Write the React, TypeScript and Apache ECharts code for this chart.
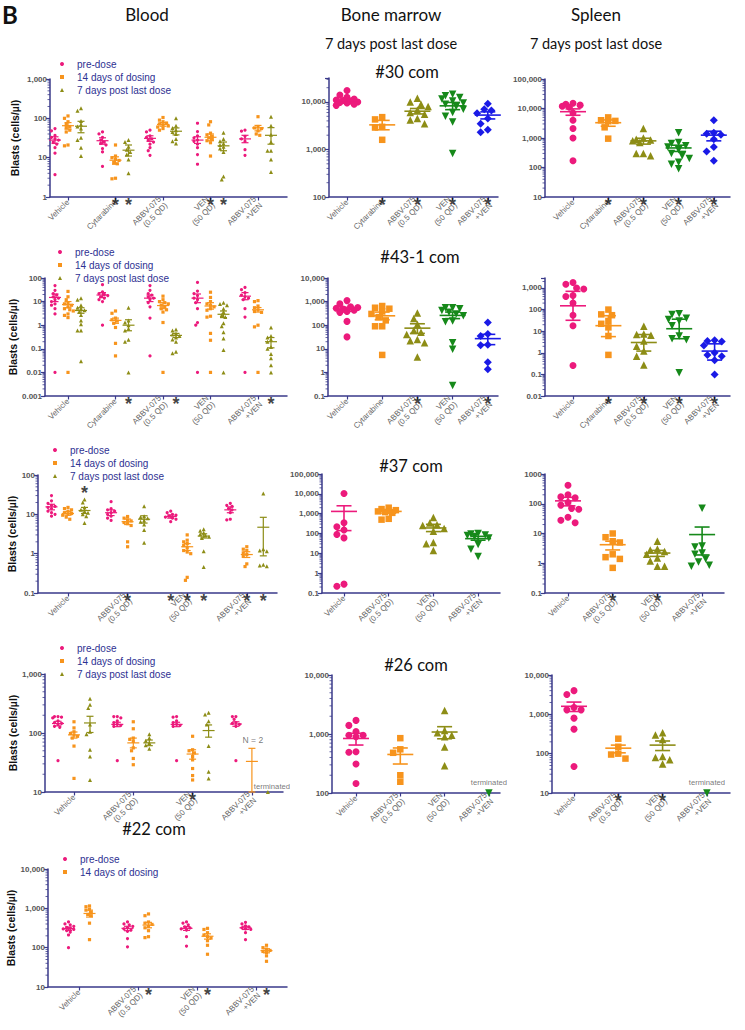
import React, { useEffect, useRef } from 'react';
import * as echarts from 'echarts';

// ---------------- categories / labels ----------------
const groups5 = ['Vehicle', 'Cytarabine', 'ABBV-075\n(0.5 QD)', 'VEN\n(50 QD)', 'ABBV-075\n+VEN'];
const groups4 = ['Vehicle', 'ABBV-075\n(0.5 QD)', 'VEN\n(50 QD)', 'ABBV-075\n+VEN'];
const timepoints = ['pre-dose', '14 days of dosing', '7 days post last dose'];

// ---------------- #30 blood (per group) ----------------
const b30Pre = [
  [55, 48, 37, 33, 30, 28, 25, 22, 18, 13, 3.7],
  [45, 40, 33, 28, 25, 23, 21, 17, 14, 6],
  [50, 45, 36, 33, 30, 28, 25, 22, 18, 15, 11.5],
  [75, 46, 36, 32, 28, 26, 22, 18, 12, 6.8],
  [50, 47, 35, 30, 26, 16, 11.5],
];
const b30D14 = [
  [115, 100, 82, 70, 62, 58, 50, 45, 21, 20],
  [21, 11, 10, 9, 8.5, 7.5, 7, 3, 2.9],
  [105, 90, 82, 76, 72, 68, 64, 60, 55, 50],
  [82, 68, 42, 38, 35, 32, 29, 27, 24, 11],
  [110, 62, 57, 55, 48, 40, 37],
];
const b30Post = [
  [180, 155, 85, 70, 62, 55, 32, 28, 18, 11],
  [28, 25, 19, 16, 14, 12, 9, 4],
  [100, 65, 57, 50, 45, 40, 30, 26, 23],
  [43, 30, 26, 23, 21, 19, 17, 14, 3.3, 2.8],
  [110, 65, 38, 25, 15, 15, 9, 4.3],
];
// [mean, lower, upper]
const b30PreStat = [[28, 23, 34], [27, 22, 32], [31, 26, 36], [28, 23, 34], [30, 24, 37]];
const b30D14Stat = [[65, 53, 78], [8.6, 6.8, 10.5], [70, 63, 78], [33, 27, 40], [57, 48, 66]];
const b30PostStat = [[63, 43, 84], [15.5, 11, 21], [47, 38, 57], [20, 15, 25], [37, 22, 58]];
const b30Stars = [[1, 1], [1, 2], [3, 1], [3, 2]];

// ---------------- #43-1 blood ----------------
const b43Pre = [
  [48, 30, 22, 19, 16, 14, 12, 10, 8, 7, 5, 3, 0.01],
  [52, 26, 22, 20, 18, 16, 14, 12, 10, 1],
  [48, 30, 22, 19, 16, 14, 12, 9, 6, 2, 0.05],
  [65, 28, 22, 18, 14, 12, 9, 5, 1.3, 1.0, 0.01],
  [40, 32, 24, 19, 16, 14, 12, 5, 2.2, 0.01],
];
const b43D14 = [
  [27, 16, 12, 9, 8, 7, 6, 5, 4.5, 4, 3, 2.6, 2.1, 0.01],
  [4, 3.2, 2, 1.7, 1.5, 1.2, 0.8, 0.17, 0.05],
  [17, 12, 10, 9, 8, 7, 6, 5, 4.5, 3.6, 1.3, 0.01],
  [25, 15, 10, 8, 7, 6, 5, 4.3, 2.4, 2.2, 0.45, 0.23, 0.01],
  [11, 10, 6.5, 5.5, 4.5, 3.8, 3.5, 1, 0.85, 0.01],
];
const b43Post = [
  [14, 12, 7, 5.5, 5, 4.3, 3.7, 2.7, 1.6, 1.1, 0.6, 0.6, 0.03],
  [5.5, 1.6, 1.3, 1, 0.7, 0.6, 0.24, 0.2, 0.01],
  [0.65, 0.6, 0.45, 0.4, 0.35, 0.3, 0.25, 0.2, 0.075, 0.065],
  [9, 8, 7, 5, 3.6, 2.7, 2.2, 1.2, 0.9, 0.5, 0.27, 0.09, 0.01],
  [0.8, 0.35, 0.3, 0.25, 0.2, 0.12, 0.1, 0.06, 0.04, 0.02, 0.01],
];
const b43PreStat = [[15, 10, 21], [19, 15, 24], [14, 10, 19], [14, 9, 21], [17, 12, 24]];
const b43D14Stat = [[7.5, 5.5, 10], [1.6, 1.2, 2.0], [6.8, 5, 9], [6.5, 4.8, 9], [4.5, 3.6, 5.6]];
const b43PostStat = [[4.2, 3.2, 5.5], [1.0, 0.58, 1.7], [0.37, 0.3, 0.45], [2.9, 2.1, 4], [0.2, 0.11, 0.3]];
const b43Stars = [[1, 2], [2, 2], [4, 2]];

// ---------------- #37 blood ----------------
const b37Pre = [
  [30, 22, 19, 17, 16, 15, 14, 12, 11, 10, 9],
  [21, 14, 13, 12, 11, 10, 9, 8, 7],
  [12, 11, 10, 9.5, 9, 8.5, 8, 7.5, 6.5],
  [19, 17, 16, 14, 13, 11, 7.5, 7.2],
];
const b37D14 = [
  [15, 14, 13, 12, 11, 10.5, 10, 9.5, 8.5, 7.5],
  [8.8, 8, 7.2, 6.8, 6.2, 5.8, 5.2, 2, 1.5],
  [3, 2.2, 2, 1.8, 1.6, 1.4, 1.2, 1.1, 1.0, 0.25, 0.21],
  [1.5, 1.3, 1.2, 1.05, 0.95, 0.85, 0.55, 0.47],
];
const b37Post = [
  [24, 20, 15, 13, 12, 11, 10, 9, 6],
  [16, 9, 8.5, 8, 7, 6.5, 5.5, 4, 1.9],
  [4.2, 3.8, 3.4, 3.1, 2.9, 2.7, 2.5, 1.15, 0.46],
  [34, 1.3, 1.2, 1.15, 0.52, 0.5, 0.48],
];
const b37PreStat = [[15.5, 13, 18], [11, 9.3, 13], [8.8, 8, 9.7], [13, 11, 15.5]];
const b37D14Stat = [[10.5, 9.5, 11.8], [6.5, 5.5, 7.6], [1.5, 1.2, 1.8], [0.95, 0.8, 1.12]];
const b37PostStat = [[12.5, 10.5, 15], [7.5, 6, 9.2], [2.8, 2.5, 3.2], [4.7, 0.88, 8.4]];
const b37Stars = [[1, 1], [2, 0], [2, 1], [2, 2], [3, 1], [3, 2]];
const b37StarsAbove = [[0, 2, 56]];

// ---------------- #26 blood ----------------
const b26Pre = [
  [190, 190, 185, 180, 160, 150, 145, 140, 130, 125, 34],
  [190, 190, 180, 160, 150, 140, 135, 130, 34],
  [190, 185, 160, 150, 140, 135, 130, 34],
  [190, 190, 170, 150, 145, 140, 130, 34],
];
const b26D14 = [
  [155, 122, 105, 98, 92, 88, 82, 60, 17],
  [155, 118, 82, 78, 72, 56, 50, 37, 29],
  [88, 52, 50, 46, 40, 35, 25, 19, 16],
  [],
];
const b26Post = [
  [380, 300, 265, 140, 105, 95, 52, 40, 16],
  [95, 82, 74, 68, 62, 54],
  [220, 205, 158, 140, 60, 22, 17],
  [10],
];
const b26PreStat = [[145, 132, 158], [140, 128, 152], [140, 128, 152], [142, 130, 155]];
const b26D14Stat = [[93, 82, 104], [68, 56, 82], [44, 36, 52], [33, 10, 55]];
const b26PostStat = [[148, 102, 192], [68, 61, 76], [110, 85, 137], null];
const b26Stars = [[2, 1]];

// ---------------- #22 blood ----------------
const b22Pre = [
  [450, 400, 380, 350, 330, 310, 300, 290, 270, 250, 210, 100],
  [450, 400, 380, 350, 320, 300, 280, 260, 170, 105],
  [450, 420, 380, 340, 320, 300, 280, 190, 110],
  [440, 400, 360, 340, 320, 300, 290, 240, 160],
];
const b22D14 = [
  [1150, 1100, 950, 900, 800, 700, 650, 420, 160],
  [720, 650, 450, 420, 390, 350, 320, 270, 190, 180],
  [310, 290, 240, 210, 190, 175, 150, 115, 68],
  [115, 100, 92, 85, 80, 75, 62, 45],
];
const b22PreStat = [[305, 275, 335], [310, 270, 350], [310, 275, 345], [320, 290, 350]];
const b22D14Stat = [[740, 600, 900], [375, 320, 440], [195, 165, 225], [84, 74, 94]];
const b22Stars = [[1, 1], [2, 1], [3, 1]];

// ---------------- bone marrow / spleen ----------------
const m30 = [
  [17500, 14000, 12500, 11500, 11000, 10800, 10500, 10000, 9800, 9500, 9000, 8500],
  [4800, 4300, 3000, 2900, 1600],
  [12000, 10000, 9000, 8000, 6800, 6000, 5500, 4500, 4200, 3500],
  [14500, 13500, 12500, 11500, 10500, 9500, 9000, 8000, 7000, 6000, 5000, 3800, 820],
  [9200, 7000, 6600, 5800, 4500, 3500, 2600, 2300],
];
const m30Stat = [[10800, 10000, 11600], [3300, 2600, 4100], [6400, 5600, 7300], [8300, 6900, 9800], [5300, 4400, 6200]];
const m30Stars = [[1, 0], [2, 0], [3, 0], [4, 0]];

const s30 = [
  [15000, 14000, 13000, 12000, 11000, 7000, 4000, 2100, 1000, 170],
  [5000, 4000, 3800, 3700, 2300, 950],
  [2100, 1000, 900, 850, 800, 700, 300, 300, 250],
  [1500, 700, 650, 550, 500, 400, 300, 250, 200, 150, 130, 90],
  [4000, 1500, 1400, 1300, 900, 500, 350, 170],
];
const s30Stat = [[7800, 5900, 9700], [3300, 2500, 4100], [800, 620, 980], [460, 350, 570], [1250, 800, 1700]];
const s30Stars = [[1, 0], [2, 0], [3, 0], [4, 0]];

const m43 = [
  [1100, 800, 600, 560, 520, 480, 430, 380, 350, 145, 32],
  [650, 550, 500, 380, 300, 220, 160, 90, 90, 5.5],
  [330, 190, 110, 60, 50, 40, 25, 22, 18, 4.5],
  [550, 550, 500, 420, 350, 300, 250, 150, 140, 18, 9.5, 0.28],
  [130, 42, 35, 15, 14, 2.7, 1.35],
];
const m43Stat = [[480, 390, 570], [250, 170, 360], [75, 45, 115], [260, 190, 360], [27, 15, 41]];
const m43Stars = [[2, 0], [4, 0]];

const s43 = [
  [1800, 1500, 1000, 900, 450, 400, 200, 55, 18, 0.26],
  [100, 60, 55, 30, 22, 15, 6, 0.8],
  [17, 7.5, 7, 6.5, 3.5, 2, 1.2, 0.7, 0.27],
  [65, 60, 40, 35, 30, 18, 6, 4.5, 4, 0.12],
  [3.8, 3.5, 3.3, 2.2, 1, 0.8, 0.7, 0.45, 0.1],
];
const s43Stat = [[150, 32, 700], [18, 5.6, 52], [3, 1.2, 7], [13, 4.5, 36], [1.2, 0.46, 2.6]];
const s43Stars = [[1, 0], [2, 0], [3, 0], [4, 0]];

const m37 = [
  [10500, 350, 220, 150, 90, 60, 0.28, 0.22],
  [2000, 1700, 1500, 1300, 1200, 1100, 550, 500],
  [650, 340, 280, 250, 180, 130, 35, 30, 14],
  [100, 95, 85, 80, 70, 60, 28, 16, 7],
];
const m37Stat = [[1300, 140, 2500], [1300, 1050, 1600], [190, 125, 290], [55, 46, 72]];
const m37Stars: number[][] = [];

const s37 = [
  [420, 200, 170, 160, 110, 90, 70, 65, 35, 28, 23],
  [10, 7.5, 5.5, 5, 2, 1.6, 1.4, 0.7],
  [5.5, 3, 2.8, 2.5, 2, 1.5, 1.2, 0.8, 0.8],
  [70, 3.8, 3.5, 2.2, 2, 1.4, 1.1, 0.85, 0.8],
];
const s37Stat = [[125, 85, 165], [4.2, 2.8, 5.5], [2.2, 1.7, 2.7], [9.2, 1.9, 16.5]];
const s37Stars = [[1, 0], [2, 0]];

const m26 = [
  [1700, 1400, 1100, 950, 950, 900, 500, 490, 310, 145],
  [850, 550, 480, 200, 155],
  [2500, 1150, 1050, 950, 900, 600, 290],
  [100],
];
const m26Stat = [[840, 650, 1030], [450, 310, 580], [1080, 830, 1330], null];
const m26Stars: number[][] = [];

const s26 = [
  [4000, 3200, 1500, 1300, 1300, 800, 420, 47],
  [240, 150, 100, 95, 75],
  [340, 300, 230, 85, 80, 70, 55],
  [10],
];
const s26Stat = [[1600, 1180, 2050], [138, 105, 165], [165, 120, 210], null];
const s26Stars = [[1, 0], [2, 0]];

// ---------------- styles & layout ----------------
const PINK = '#ec1a7c';
const ORANGE = '#f7941d';
const OLIVE = '#8d8d16';
const GREEN = '#16891a';
const BLUE = '#1a1ae6';
const AXIS = '#3a3a8a';
const LEGEND_TEXT = '#2e3192';
const FONT = "'Liberation Sans', Arial, sans-serif";
const TFONT = "Lato, 'Open Sans', sans-serif";

const BLOOD_STYLE = [
  { color: PINK, symbol: 'circle', size: 3.2 },
  { color: ORANGE, symbol: 'rect', size: 3.2 },
  { color: OLIVE, symbol: 'triangle', size: 4 },
];
const BM_STYLE = [
  { color: PINK, symbol: 'circle', size: 7 },
  { color: ORANGE, symbol: 'rect', size: 6.5 },
  { color: OLIVE, symbol: 'triangle', size: 7.5 },
  { color: GREEN, symbol: 'triangle', size: 7.5, rotate: 180 },
  { color: BLUE, symbol: 'diamond', size: 8 },
];

type Layout = {
  left: number; top: number; right: number; bottom: number;
  ymin: number; ymax: number; c0: number; sp: number; subs: number[];
  comma: boolean; nameGap?: number;
};

const L = {
  b30: { left: 50, top: 79, right: 287, bottom: 197, ymin: 1, ymax: 1000, c0: 68, sp: 47.5, subs: [-13, 0, 13], comma: true, nameGap: 30 },
  b43: { left: 45, top: 278, right: 287, bottom: 396, ymin: 0.001, ymax: 100, c0: 68, sp: 47.5, subs: [-13, 0, 13], comma: true, nameGap: 25 },
  b37: { left: 38, top: 475, right: 277, bottom: 593, ymin: 0.1, ymax: 100, c0: 68, sp: 59.6, subs: [-16.5, 0, 16.5], comma: true, nameGap: 18 },
  b26: { left: 45, top: 674, right: 283, bottom: 792, ymin: 10, ymax: 1000, c0: 74, sp: 59.3, subs: [-16, 0, 16], comma: true, nameGap: 25 },
  b22: { left: 48, top: 869, right: 287, bottom: 987, ymin: 10, ymax: 10000, c0: 79, sp: 59, subs: [-10.5, 10.5], comma: true, nameGap: 28 },
  m30: { left: 329, top: 78, right: 498, bottom: 197, ymin: 100, ymax: 32000, c0: 347, sp: 35.2, subs: [0], comma: true },
  s30: { left: 545, top: 79, right: 730, bottom: 197, ymin: 10, ymax: 100000, c0: 573, sp: 35.2, subs: [0], comma: true },
  m43: { left: 328, top: 278, right: 498, bottom: 396, ymin: 0.1, ymax: 10000, c0: 347, sp: 35.2, subs: [0], comma: true },
  s43: { left: 545, top: 278, right: 730, bottom: 396, ymin: 0.01, ymax: 2900, c0: 573, sp: 35.4, subs: [0], comma: true },
  m37: { left: 322, top: 474, right: 500, bottom: 593, ymin: 0.1, ymax: 100000, c0: 344, sp: 44.7, subs: [0], comma: true },
  s37: { left: 545, top: 474, right: 724, bottom: 593, ymin: 0.1, ymax: 1000, c0: 568, sp: 44.7, subs: [0], comma: false },
  m26: { left: 332, top: 675, right: 500, bottom: 793, ymin: 100, ymax: 10000, c0: 356, sp: 44.3, subs: [0], comma: true },
  s26: { left: 552, top: 675, right: 730, bottom: 793, ymin: 10, ymax: 10000, c0: 574, sp: 44.3, subs: [0], comma: true },
} as Record<string, Layout>;

const HEADERS = [
  { text: 'B', x: 2, y: 14, size: 24, bold: true, align: 'left' },
  { text: 'Blood', x: 147, y: 14, size: 17 },
  { text: 'Bone marrow', x: 391, y: 14, size: 17 },
  { text: '7 days post last dose', x: 391, y: 43, size: 14.5 },
  { text: 'Spleen', x: 596, y: 14, size: 17 },
  { text: '7 days post last dose', x: 596, y: 43, size: 14.5 },
  { text: '#30 com', x: 407, y: 72, size: 16.5 },
  { text: '#43-1 com', x: 420, y: 257, size: 16.5 },
  { text: '#37 com', x: 411, y: 466, size: 16.5 },
  { text: '#26 com', x: 416, y: 665, size: 16.5 },
  { text: '#22 com', x: 154, y: 829, size: 16.5 },
];

const LEGENDS = [
  { left: 55, top: 52.5, n: 3 },
  { left: 53, top: 240.5, n: 3 },
  { left: 48, top: 438.5, n: 3 },
  { left: 55, top: 636.5, n: 3 },
  { left: 58, top: 847.5, n: 2 },
];

type Entry = { g: number; sub: number; vals: number[]; stat: number[] | null };
type SetDef = { name: string; color: string; symbol: string; size: number; rotate?: number; entries: Entry[] };
type Note = { g: number; sub: number; v: number; text: string; dx: number; dy: number; size: number };
type Panel = {
  L: Layout; groups: string[]; sets: SetDef[]; blood: boolean;
  stars: { g: number; sub: number; v: number | null }[];
  notes: Note[];
};

function bloodPanel(lay: Layout, groups: string[], vals: number[][][], stats: (number[] | null)[][], stars: number[][], above: number[][] = [], notes: Note[] = []): Panel {
  const sets = vals.map((tv, t) => ({
    name: timepoints[t], ...BLOOD_STYLE[t],
    entries: tv.map((vs, g) => ({ g, sub: lay.subs[t], vals: vs, stat: stats[t][g] })),
  }));
  const st: { g: number; sub: number; v: number | null }[] = stars.map(([g, s]) => ({ g, sub: lay.subs[s], v: null }));
  above.forEach(([g, s, v]) => st.push({ g, sub: lay.subs[s], v }));
  return { L: lay, groups, sets, blood: true, stars: st, notes };
}

function bmPanel(key: string, lay: Layout, groups: string[], vals: number[][], stats: (number[] | null)[], stars: number[][], notes: Note[] = []): Panel {
  const sets = vals.map((vs, g) => ({
    name: key + '-' + g, ...BM_STYLE[g],
    entries: [{ g, sub: 0, vals: vs, stat: stats[g] }],
  }));
  return { L: lay, groups, sets, blood: false, stars: stars.map(([g]) => ({ g, sub: 0, v: null })), notes };
}

const PANELS: Panel[] = [
  bloodPanel(L.b30, groups5, [b30Pre, b30D14, b30Post], [b30PreStat, b30D14Stat, b30PostStat], b30Stars),
  bloodPanel(L.b43, groups5, [b43Pre, b43D14, b43Post], [b43PreStat, b43D14Stat, b43PostStat], b43Stars),
  bloodPanel(L.b37, groups4, [b37Pre, b37D14, b37Post], [b37PreStat, b37D14Stat, b37PostStat], b37Stars, b37StarsAbove),
  bloodPanel(L.b26, groups4, [b26Pre, b26D14, b26Post], [b26PreStat, b26D14Stat, b26PostStat], b26Stars, [], [
    { g: 3, sub: 0, v: 55, text: 'N = 2', dx: 1, dy: -8, size: 8.5 },
    { g: 3, sub: 16, v: 10, text: 'terminated', dx: 4, dy: -6, size: 7.7 },
  ]),
  bloodPanel(L.b22, groups4, [b22Pre, b22D14], [b22PreStat, b22D14Stat], b22Stars),
  bmPanel('m30', L.m30, groups5, m30, m30Stat, m30Stars),
  bmPanel('s30', L.s30, groups5, s30, s30Stat, s30Stars),
  bmPanel('m43', L.m43, groups5, m43, m43Stat, m43Stars),
  bmPanel('s43', L.s43, groups5, s43, s43Stat, s43Stars),
  bmPanel('m37', L.m37, groups4, m37, m37Stat, m37Stars),
  bmPanel('s37', L.s37, groups4, s37, s37Stat, s37Stars),
  bmPanel('m26', L.m26, groups4, m26, m26Stat, m26Stars, [{ g: 3, sub: 0, v: 100, text: 'terminated', dx: 0, dy: -11, size: 7.7 }]),
  bmPanel('s26', L.s26, groups4, s26, s26Stat, s26Stars, [{ g: 3, sub: 0, v: 10, text: 'terminated', dx: 0, dy: -11, size: 7.7 }]),
];

function fmtLog(v: number, comma: boolean): string {
  const e = Math.log10(v);
  const r = Math.round(e);
  if (Math.abs(e - r) > 1e-6) return '';
  if (r < 0) return '0.' + '0'.repeat(-r - 1) + '1';
  const s = String(Math.pow(10, r));
  return comma ? s.replace(/\B(?=(\d{3})+(?!\d))/g, ',') : s;
}

// log-spaced minor tick values (2..9 × 10^k) inside the axis range
function minorTicks(ymin: number, ymax: number): number[] {
  const out: number[] = [];
  for (let e = Math.floor(Math.log10(ymin)); e <= Math.ceil(Math.log10(ymax)); e++) {
    for (let k = 2; k <= 9; k++) {
      const v = k * Math.pow(10, e);
      if (v > ymin * 1.0001 && v < ymax * 0.9999) out.push(v);
    }
  }
  return out;
}

// deterministic beeswarm spread (pixel offsets)
function swarm(vals: number[], ppd: number, d: number, maxOff: number): number[] {
  const order = vals.map((_, i) => i).sort((a, b) => vals[b] - vals[a]);
  const placed: number[][] = [];
  const out: number[] = new Array(vals.length).fill(0);
  const step = d * 0.55;
  for (const i of order) {
    const y = Math.log10(vals[i]) * ppd;
    let best = 0;
    let bestScore = -1;
    for (let k = 0; k < 30; k++) {
      const off = k === 0 ? 0 : (k % 2 === 1 ? -1 : 1) * Math.ceil(k / 2) * step;
      if (Math.abs(off) > maxOff) break;
      let minD = Infinity;
      for (const p of placed) {
        const dd = Math.hypot(p[0] - off, p[1] - y);
        if (dd < minD) minD = dd;
      }
      if (minD >= d) { best = off; break; }
      if (minD > bestScore) { bestScore = minD; best = off; }
    }
    placed.push([best, y]);
    out[i] = best;
  }
  return out;
}

function buildOption(): any {
  const grid: any[] = [];
  const xAxis: any[] = [];
  const yAxis: any[] = [];
  const series: any[] = [];

  PANELS.forEach((p, i) => {
    const lay = p.L;
    const h = lay.bottom - lay.top;
    const ppd = h / (Math.log10(lay.ymax) - Math.log10(lay.ymin));
    const ticks = p.groups.map((_, k) => k);
    const xmin = (lay.left - lay.c0) / lay.sp;
    grid.push({ left: lay.left, top: lay.top, width: lay.right - lay.left, height: h, containLabel: false, outerBoundsMode: 'none' });
    xAxis.push({
      type: 'value', gridIndex: i,
      min: xmin, max: (lay.right - lay.c0) / lay.sp,
      axisLine: { show: true, onZero: false, lineStyle: { color: AXIS, width: 1.5 } },
      axisTick: { show: true, customValues: ticks, length: 3.5, lineStyle: { color: AXIS, width: 1.2 } },
      axisLabel: {
        show: true, customValues: ticks, rotate: 45, fontSize: 8, color: '#666', margin: 4, lineHeight: 9,
        fontFamily: FONT, formatter: (v: number) => p.groups[Math.round(v)] ?? '',
      },
      splitLine: { show: false },
    });
    yAxis.push({
      type: 'log', logBase: 10, gridIndex: i, min: lay.ymin, max: lay.ymax,
      axisLine: { show: true, onZero: false, lineStyle: { color: AXIS, width: 1.5 } },
      axisTick: { show: true, length: 4, lineStyle: { color: AXIS, width: 1.2 } },
      axisLabel: { fontSize: 8, color: '#555', fontWeight: 'bold', margin: 3, fontFamily: FONT, formatter: (v: number) => fmtLog(v, lay.comma) },
      splitLine: { show: false },
      name: p.blood ? 'Blasts (cells/µl)' : '',
      nameLocation: 'middle', nameGap: lay.nameGap ?? 20,
      nameTextStyle: { fontSize: 10.5, fontWeight: 'bold', color: '#111', fontFamily: FONT },
    });

    // minor ticks on the log axis
    series.push({
      type: 'custom', xAxisIndex: i, yAxisIndex: i, silent: true, z: 1, clip: false,
      data: minorTicks(lay.ymin, lay.ymax).map((v) => [xmin, v]),
      encode: { x: 0, y: 1 },
      renderItem: (params: any, api: any) => {
        const pt = api.coord([api.value(0), api.value(1)]);
        return { type: 'line', shape: { x1: pt[0] - 2.5, y1: pt[1], x2: pt[0], y2: pt[1] }, style: { stroke: AXIS, lineWidth: 0.8 } };
      },
    });

    const d = p.blood ? 3.2 : 6.5;
    const maxOff = p.blood ? 7 : 14;
    const barHalf = p.blood ? 6 : 13;
    const capHalf = p.blood ? 3.5 : 7.5;
    const lw = p.blood ? 1.2 : 1.6;

    p.sets.forEach((s) => {
      const pts: number[][] = [];
      const st: number[][] = [];
      s.entries.forEach((e) => {
        const offs = swarm(e.vals, ppd, d, maxOff);
        e.vals.forEach((v, k) => pts.push([e.g + (e.sub + offs[k]) / lay.sp, v]));
        if (e.stat) st.push([e.g + e.sub / lay.sp, e.stat[0], e.stat[1], e.stat[2]]);
      });
      series.push({
        type: 'scatter', name: s.name, xAxisIndex: i, yAxisIndex: i, data: pts,
        symbol: s.symbol, symbolSize: s.size, symbolRotate: s.rotate ?? 0,
        itemStyle: { color: s.color, opacity: 1 }, silent: true, z: 2,
      });
      const color = s.color;
      series.push({
        type: 'custom', name: s.name + '-stat', xAxisIndex: i, yAxisIndex: i, data: st, z: 3, silent: true,
        encode: { x: 0, y: 1 },
        renderItem: (params: any, api: any) => {
          const x = api.value(0);
          const pm = api.coord([x, api.value(1)]);
          const pl = api.coord([x, api.value(2)]);
          const ph = api.coord([x, api.value(3)]);
          const style = { stroke: color, lineWidth: lw, fill: 'none' };
          return {
            type: 'group',
            children: [
              { type: 'line', shape: { x1: pm[0] - barHalf, y1: pm[1], x2: pm[0] + barHalf, y2: pm[1] }, style },
              { type: 'line', shape: { x1: pl[0], y1: pl[1], x2: ph[0], y2: ph[1] }, style },
              { type: 'line', shape: { x1: pl[0] - capHalf, y1: pl[1], x2: pl[0] + capHalf, y2: pl[1] }, style },
              { type: 'line', shape: { x1: ph[0] - capHalf, y1: ph[1], x2: ph[0] + capHalf, y2: ph[1] }, style },
            ],
          };
        },
      });
    });

    if (p.stars.length) {
      series.push({
        type: 'scatter', xAxisIndex: i, yAxisIndex: i, silent: true, z: 5,
        symbol: 'circle', symbolSize: 0.1, itemStyle: { color: 'rgba(0,0,0,0)' },
        data: p.stars.map((s) => [s.g + s.sub / lay.sp, s.v ?? lay.ymin]),
        label: { show: true, formatter: '*', position: 'inside', fontSize: 18, fontWeight: 'bold', color: '#111', offset: [0, 8], fontFamily: FONT },
      });
    }
    p.notes.forEach((n) => {
      series.push({
        type: 'scatter', xAxisIndex: i, yAxisIndex: i, silent: true, z: 5,
        symbol: 'circle', symbolSize: 0.1, itemStyle: { color: 'rgba(0,0,0,0)' },
        data: [[n.g + n.sub / lay.sp, n.v]],
        label: { show: true, formatter: n.text, position: 'inside', fontSize: n.size, color: '#555', offset: [n.dx, n.dy], fontFamily: FONT },
      });
    });
  });

  const icons = ['circle', 'rect', 'triangle'];
  const legend = LEGENDS.map((lg) => ({
    left: lg.left, top: lg.top, orient: 'vertical', itemWidth: 4, itemHeight: 4, itemGap: 0,
    selectedMode: false,
    textStyle: { fontSize: 10, color: LEGEND_TEXT, fontFamily: FONT, lineHeight: 13, padding: [0, 0, 0, 8] },
    data: timepoints.slice(0, lg.n).map((t, k) => ({ name: t, icon: icons[k] })),
  }));

  const graphic = {
    elements: HEADERS.map((hd) => ({
      type: 'text', x: hd.x, y: hd.y, silent: true,
      style: {
        text: hd.text, fontSize: hd.size, fontFamily: TFONT, fontWeight: hd.bold ? 'bold' : 'normal', fill: '#111',
        align: hd.align ?? 'center', verticalAlign: 'middle', textAlign: hd.align ?? 'center', textVerticalAlign: 'middle',
      },
    })),
  };

  return { animation: false, textStyle: { fontFamily: FONT }, grid, xAxis, yAxis, series, legend, graphic };
}

export default function App() {
  const ref = useRef<HTMLDivElement>(null);
  useEffect(() => {
    if (!ref.current) return;
    const chart = echarts.init(ref.current, undefined, { renderer: 'svg' });
    chart.setOption(buildOption());
    return () => chart.dispose();
  }, []);
  return <div ref={ref} style={{ position: 'absolute', left: 0, top: 0, width: 745, height: 1030, background: '#fff' }} />;
}
